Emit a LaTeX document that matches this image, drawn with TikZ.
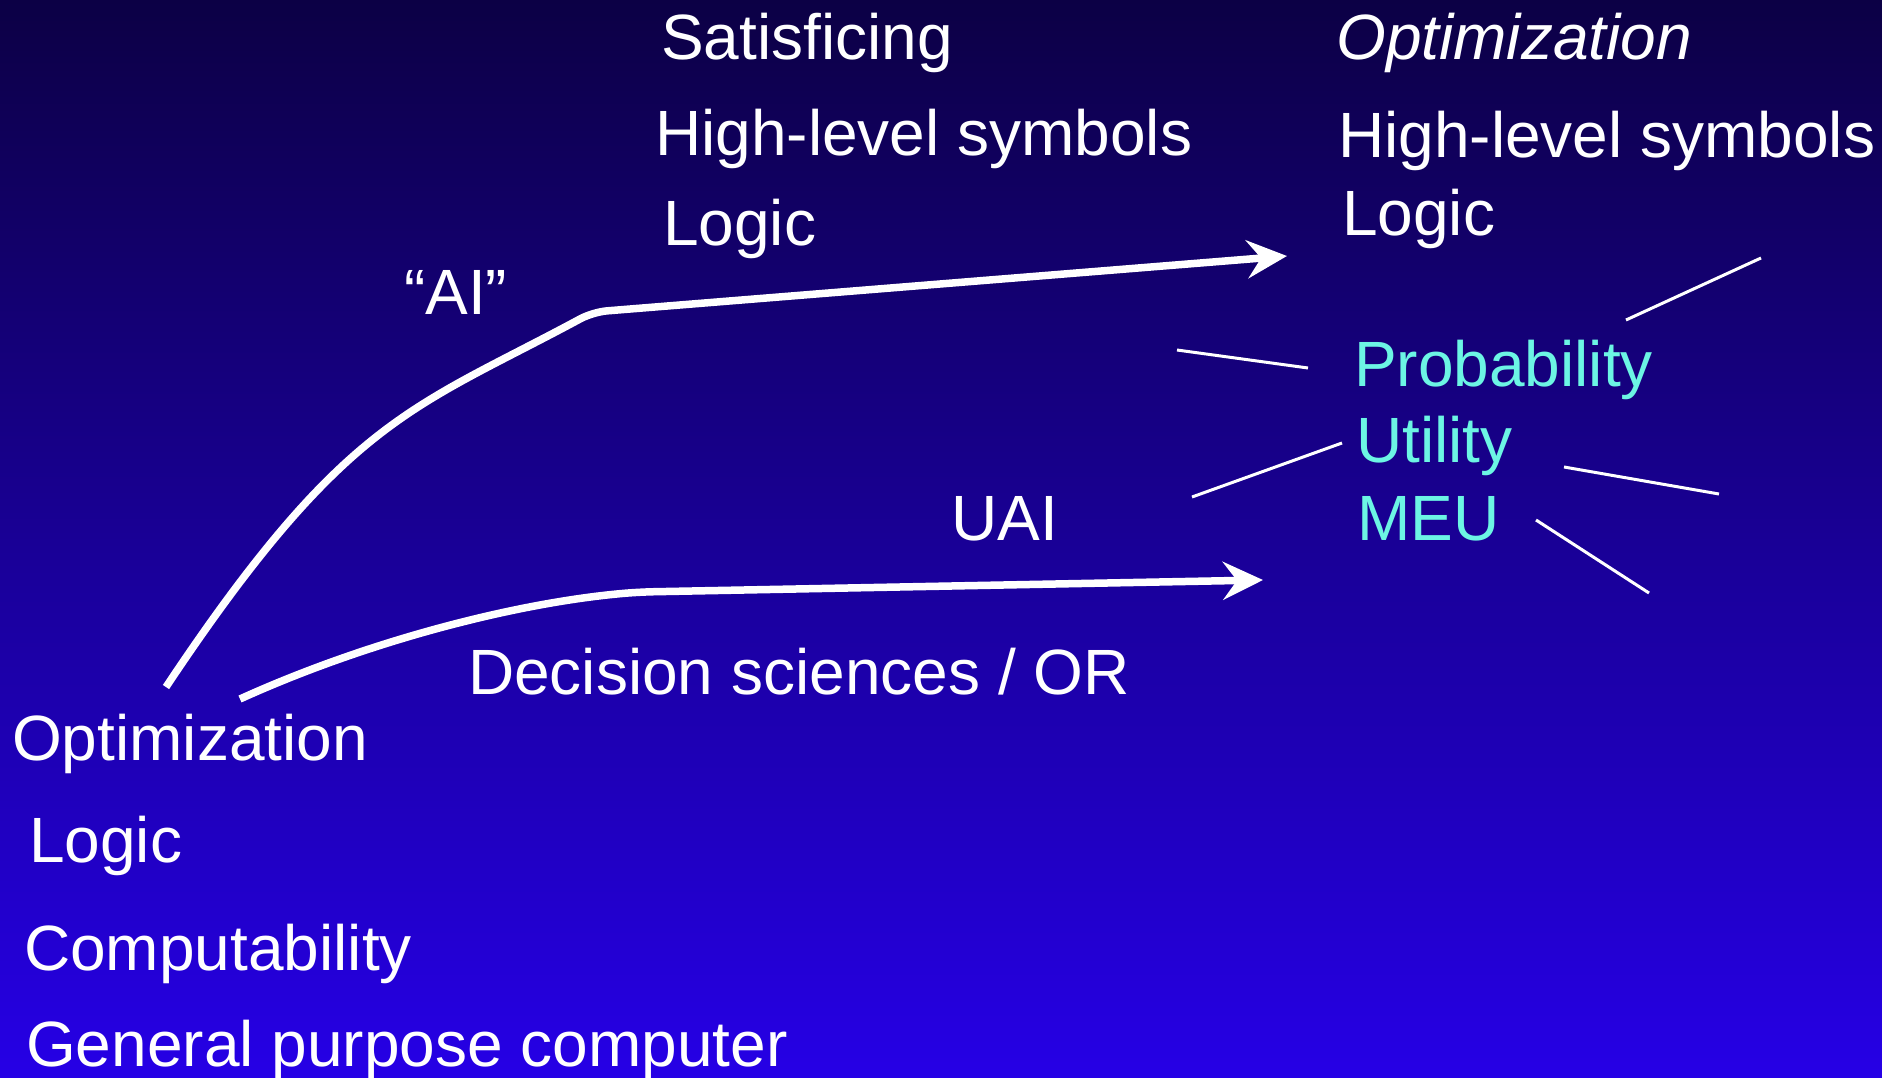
\documentclass[tikz,border=0pt]{standalone}
\usepackage{fontspec}
\setmainfont{Liberation Sans}
\usetikzlibrary{arrows.meta}
\definecolor{bgtop}{RGB}{12,0,69}
\definecolor{bgmid}{RGB}{29,0,172}
\definecolor{bgbot}{RGB}{38,0,230}
\definecolor{hilite}{RGB}{108,245,228}
\begin{document}
\begin{tikzpicture}[x=1pt,y=-1pt,
  lbl/.style={anchor=base west, inner sep=0pt, text=white, font=\fontsize{64}{77}\selectfont},
  key/.style={lbl, text=hilite},
  flow/.style={draw=white, line width=7.5pt, rounded corners=14pt,
    -{Stealth[length=40pt,width=38pt,inset=14pt]}},
  ray/.style={draw=white, line width=3pt}]
% background
\shade[top color=bgtop, middle color=bgmid, bottom color=bgbot] (0,0) rectangle (1882,1078);
\useasboundingbox (0,0) rectangle (1882,1078);

% middle column
\node[lbl] (sat)  at (661,60)  {Satisficing};
\node[lbl] (hls1) at (655,156) {High-level symbols};
\node[lbl] (log1) at (663,246) {Logic};
\node[lbl] (ai)   at (404,314) {“AI”};
\node[lbl] (uai)  at (951,540) {UAI};
\node[lbl] (dsor) at (468,694) {Decision sciences / OR};

% right column
\node[lbl] (opt2) at (1336,60)  {\itshape Optimization};
\node[lbl] (hls2) at (1338,158) {High-level symbols};
\node[lbl] (log2) at (1342,236) {Logic};
\node[key] (prob) at (1354,386) {Probability};
\node[key] (util) at (1356,462) {Utility};
\node[key] (meu)  at (1357,540) {MEU};

% left column
\node[lbl] (opt1) at (12,760)  {Optimization};
\node[lbl] (log0) at (29,862)  {Logic};
\node[lbl] (comp) at (24,970)  {Computability};
\node[lbl] (gpc)  at (26,1066) {General purpose computer};

% arrow end points and bends
\coordinate (aiS) at (166,687);
\coordinate (aiK) at (593,312);
\coordinate (aiE) at (1287,256);
\coordinate (uaS) at (240,699);
\coordinate (uaK) at (640,592);
\coordinate (uaE) at (1263,580);

\draw[flow] (aiS) .. controls (346,417) and (413,409) .. (aiK) -- (aiE);
\draw[flow] (uaS) .. controls (370,640) and (520,602) .. (uaK) -- (uaE);

% rays around the new ideas
\coordinate (r1a) at (1626,320); \coordinate (r1b) at (1761,258);
\coordinate (r2a) at (1177,350); \coordinate (r2b) at (1308,368);
\coordinate (r3a) at (1192,497); \coordinate (r3b) at (1342,443);
\coordinate (r4a) at (1564,467); \coordinate (r4b) at (1719,494);
\coordinate (r5a) at (1536,520); \coordinate (r5b) at (1649,593);
\draw[ray] (r1a) -- (r1b);
\draw[ray] (r2a) -- (r2b);
\draw[ray] (r3a) -- (r3b);
\draw[ray] (r4a) -- (r4b);
\draw[ray] (r5a) -- (r5b);
\end{tikzpicture}
\end{document}
